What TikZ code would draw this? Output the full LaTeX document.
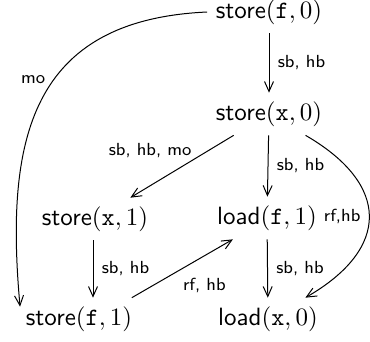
\documentclass[tikz,border=0pt]{standalone}
\usetikzlibrary{arrows.meta}
\begin{document}
\begin{tikzpicture}[x=0.4pt,y=-0.4pt,
  lbl/.style={font=\sffamily\scriptsize},
  arr/.style={-{Straight Barb[length=4pt,width=3.6pt]}}]
\useasboundingbox (0,0) rectangle (370,341);
\node (sf0) at (269,12)  {\textsf{store}$(\mathtt{f},0)$};
\node (sx0) at (269,114) {\textsf{store}$(\mathtt{x},0)$};
\node (sx1) at (95,219)  {\textsf{store}$(\mathtt{x},1)$};
\node (lf1) at (267,218) {\textsf{load}$(\mathtt{f},1)$};
\node (sf1) at (79,319)  {\textsf{store}$(\mathtt{f},1)$};
\node (lx0) at (268,319) {\textsf{load}$(\mathtt{x},0)$};
\draw[arr] (sf0) -- node[lbl,right]{sb, hb} (sx0);
\draw[arr] (sx0) -- node[lbl,right]{sb, hb} (lf1);
\draw[arr] (lf1) -- node[lbl,right]{sb, hb} (lx0);
\draw[arr] ([xshift=-0.8pt]sx1.south) -- node[lbl,right]{sb, hb} ([xshift=-0.8pt]sx1.south |- sf1.north);
\draw[arr] (sx0) -- node[lbl,pos=0.25,left=3pt]{sb, hb, mo} (sx1);
\draw[arr] (sf1.22) -- node[lbl,pos=0.42,below right,yshift=1.5pt]{rf, hb} (lf1.212);
\draw[arr] (sx0) to[bend left=60,looseness=1.55] node[lbl,left]{rf,hb} (lx0);
\draw[arr] (sf0.west) .. controls (30,20) and (5,140) .. ([xshift=1.2pt,yshift=-3.6pt]sf1.north west) node[lbl,pos=0.43,left]{mo};
\end{tikzpicture}
\end{document}
